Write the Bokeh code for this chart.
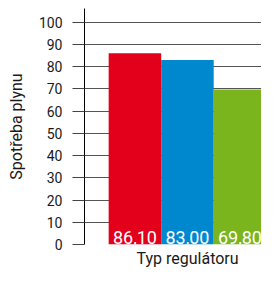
from bokeh.plotting import figure
from bokeh.models import ColumnDataSource, Range1d, FixedTicker, Title
from bokeh.embed import file_html
from bokeh.resources import INLINE
from bokeh.core.properties import value

# data
categories = ["Regulátor 1", "Regulátor 2", "Regulátor 3"]
values = [86.10, 83.00, 69.80]
colors = ["#E2001A", "#0088CF", "#7AB51D"]
y_ticks = [0, 10, 20, 30, 40, 50, 60, 70, 80, 90, 100]
x_title = "Typ regulátoru"
y_title = "Spotřeba plynu"

FONT = "Roboto"

labels = [f"{v:.2f}".replace(".", ",") for v in values]
xs = list(range(len(categories)))

src = ColumnDataSource(dict(x=xs, top=values, color=colors, label=labels,
                            base=[0] * len(values)))

p = figure(width=261, height=270, output_backend="svg", toolbar_location=None,
           x_range=Range1d(-0.96, 2.41), y_range=Range1d(0, 106.2),
           min_border_left=84, min_border_right=0, min_border_top=8,
           min_border_bottom=26)
p.outline_line_color = None
p.background_fill_color = "white"

p.vbar(x="x", top="top", width=1.0, color="color", source=src, line_color=None)
p.text(x="x", y="base", text="label", source=src, text_color="white",
       text_font=value(FONT), text_font_size="18px", text_align="center",
       text_baseline="alphabetic", y_offset=-7)

# y axis
ya = p.yaxis[0]
ya.ticker = FixedTicker(ticks=y_ticks)
ya.axis_line_color = "black"
ya.axis_line_width = 1
ya.major_tick_line_color = "#444444"
ya.major_tick_out = 12
ya.major_tick_in = 0
ya.minor_tick_line_color = None
ya.major_label_text_font = FONT
ya.major_label_text_font_size = "14px"
ya.major_label_text_color = "#1a1a1a"
ya.major_label_standoff = 10
ya.axis_label = y_title
ya.axis_label_text_font = FONT
ya.axis_label_text_font_size = "16px"
ya.axis_label_text_font_style = "normal"
ya.axis_label_text_color = "#1a1a1a"
ya.axis_label_standoff = 10

# x axis: hidden, title drawn below instead
p.xaxis.visible = False
p.add_layout(Title(text=x_title, align="left", text_font=FONT,
                   text_font_size="16px", text_font_style="normal",
                   text_color="#1a1a1a", offset=52, standoff=4), "below")

p.xgrid.grid_line_color = None
p.ygrid.ticker = FixedTicker(ticks=y_ticks)
p.ygrid.grid_line_color = "#555555"
p.ygrid.grid_line_width = 1
p.ygrid.level = "underlay"

open("out.html", "w").write(file_html(p, INLINE))
